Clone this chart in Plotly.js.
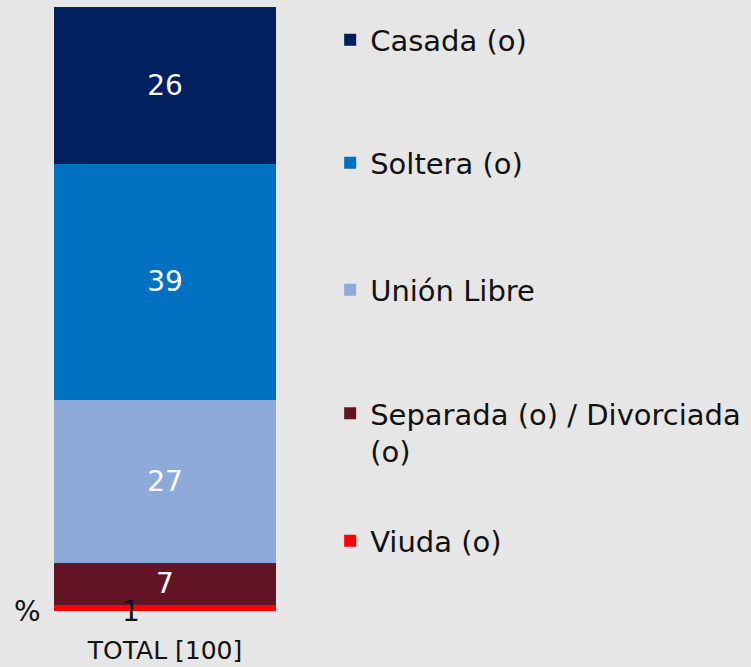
<!DOCTYPE html>
<html>
<head>
<meta charset="utf-8">
<script src="https://cdn.plot.ly/plotly-3.0.1.min.js"></script>
<style>html,body{margin:0;padding:0;background:#e6e6e6;}#chart{width:751px;height:667px;}</style>
</head>
<body>
<div id="chart"></div>
<script>
// Data
const categories = ["TOTAL [100]"];
const seriesNames = ["Viuda (o)", "Separada (o) / Divorciada<br>(o)", "Unión Libre", "Soltera (o)", "Casada (o)"];
const viuda = [1];
const separada = [7];
const unionLibre = [27];
const soltera = [39];
const casada = [26];
const axisUnit = "%";

const colors = ["#FF0000", "#631525", "#8EAADB", "#0070C0", "#002060"];
const values = [viuda, separada, unionLibre, soltera, casada];
const legendIds = ["legend5", "legend4", "legend3", "legend2", "legend"];
const legendY = [0.1159, 0.2955, 0.5315, 0.7417, 0.9454];

const FONT = "DejaVu Sans, Lato, sans-serif";

const traces = values.map((v, i) => ({
  type: "bar",
  name: seriesNames[i],
  x: categories,
  y: v,
  marker: {color: colors[i], line: {width: 0}},
  text: v.map(String),
  textposition: i === 0 ? "none" : "inside",
  insidetextanchor: "middle",
  textfont: {color: "#ffffff", size: 28, family: FONT},
  hoverinfo: "skip",
  legend: legendIds[i]
}));

const layout = {
  width: 751,
  height: 667,
  paper_bgcolor: "#e6e6e6",
  plot_bgcolor: "rgba(0,0,0,0)",
  margin: {l: 54, r: 475, t: 7, b: 56, pad: 0, autoexpand: false},
  barmode: "stack",
  bargap: 0,
  showlegend: true,
  font: {family: FONT, color: "#111111"},
  xaxis: {
    showgrid: false, zeroline: false, showline: false,
    ticks: "", tickfont: {size: 25, color: "#111111", family: FONT},
    ticklabelstandoff: 22, fixedrange: true
  },
  yaxis: {
    range: [0, 100], showgrid: false, zeroline: false, showline: false,
    showticklabels: false, ticks: "", fixedrange: true
  },
  annotations: [
    {xref: "paper", yref: "paper", x: -0.1216, y: 0, text: axisUnit, showarrow: false,
     xanchor: "center", yanchor: "middle", font: {size: 28, color: "#111111", family: FONT}},
    {x: categories[0], y: viuda[0] / 2, text: String(viuda[0]), showarrow: false,
     xshift: -34, yshift: -4, xanchor: "center", yanchor: "middle",
     font: {size: 28, color: "#111111", family: FONT}}
  ]
};

legendIds.forEach((id, i) => {
  layout[id] = {
    x: 1.244, xanchor: "left",
    y: legendY[i], yanchor: "middle",
    bgcolor: "rgba(0,0,0,0)", borderwidth: 0,
    valign: "top",
    font: {size: 29, color: "#111111", family: FONT},
    itemclick: false, itemdoubleclick: false
  };
});

Plotly.newPlot("chart", traces, layout, {displayModeBar: false, staticPlot: true});
</script>
</body>
</html>
